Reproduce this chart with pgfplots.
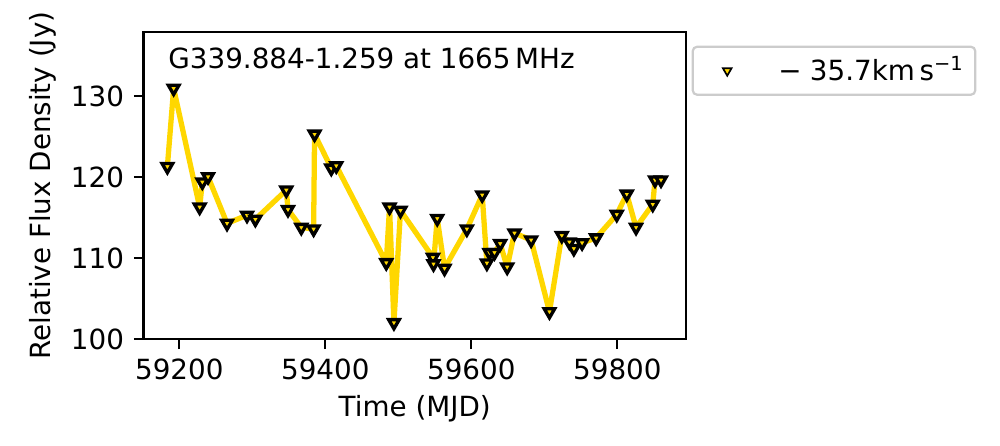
\documentclass[border=0pt]{standalone}
\usepackage{fontspec}
\setmainfont{DejaVu Sans}
\usepackage{pgfplots}
\usepackage{pgfplotstable}
\pgfplotsset{compat=1.18}
\definecolor{gold}{RGB}{255,215,0}

\pgfplotstableread{
mjd flux
59183.7 121.3
59192.3 130.95
59227.9 116.3
59231.6 119.4
59239.4 120.05
59265.4 114.3
59292.8 115.3
59304.2 114.8
59346.6 118.4
59348.9 116.0
59367.1 113.8
59384.0 113.6
59385.3 125.3
59408.2 121.1
59415.0 121.4
59483.5 109.45
59488.0 116.3
59494.0 102.05
59503.0 115.9
59547.4 110.1
59548.2 109.3
59553.3 114.9
59563.3 108.75
59593.9 113.6
59614.9 117.8
59621.3 109.4
59624.8 110.7
59631.7 110.7
59639.5 111.8
59649.1 108.9
59659.1 113.1
59681.9 112.25
59707.0 103.4
59723.9 112.8
59734.3 112.0
59740.4 111.2
59751.7 111.9
59770.9 112.5
59799.2 115.4
59812.9 117.9
59825.6 113.8
59848.5 116.65
59851.6 119.65
59859.8 119.65
}\data

\begin{document}
\begin{tikzpicture}
\useasboundingbox (0,0) rectangle (360pt,160.56pt);
\begin{axis}[
  at={(51.66pt,38.41pt)}, anchor=south west,
  width=195.3pt, height=110.63pt, scale only axis,
  xmin=59151, xmax=59894, ymin=100, ymax=137.9,
  xtick={59200,59400,59600,59800}, ytick={100,110,120,130},
  scaled x ticks=false,
  xticklabel style={/pgf/number format/.cd, fixed, 1000 sep={}},
  /pgf/number format/assume math mode=true,
  tick align=outside, tick pos=left,
  major tick length=3.5pt,
  every tick/.style={black, line width=0.8pt},
  axis line style={line width=0.8pt},
  xlabel={Time (MJD)}, ylabel={Relative Flux Density (Jy)},
  xlabel style={at={(axis description cs:0.5,-0.227)}, anchor=center},
  ylabel style={at={(axis description cs:-0.186,0.5)}, anchor=center},
  legend style={at={(1.0105,0.9554)}, anchor=north west, draw=black!20,
    line width=0.8pt, rounded corners=1.5pt, inner xsep=2pt, inner ysep=1.5pt,
    nodes={inner sep=2pt},
    /tikz/every odd column/.append style={column sep=6pt}},
  legend cell align=left,
  legend image code/.code={\path (0pt,-4pt) (20pt,4pt);
    \draw[#1, only marks, mark size=1.8pt, mark options={rotate=180, fill=gold, draw=black, line width=0.6pt}] plot coordinates {(10pt,0pt)};},
  clip=false,
]
\addplot[gold, line width=1.9pt, line join=round, forget plot] table[x=mjd, y=flux] {\data};
\addplot[only marks, mark=triangle*, mark size=2.2pt,
  mark options={rotate=180, fill=gold, draw=black, line width=1.2pt}
  ] table[x=mjd, y=flux] {\data};
\addlegendentry{−\hspace{0.3em}35.7km\,s\textsuperscript{−1}}
\node[anchor=north west, inner sep=0pt] at (rel axis cs:0.045,0.95) {G339.884-1.259 at 1665\,MHz};
\end{axis}
\end{tikzpicture}
\end{document}
